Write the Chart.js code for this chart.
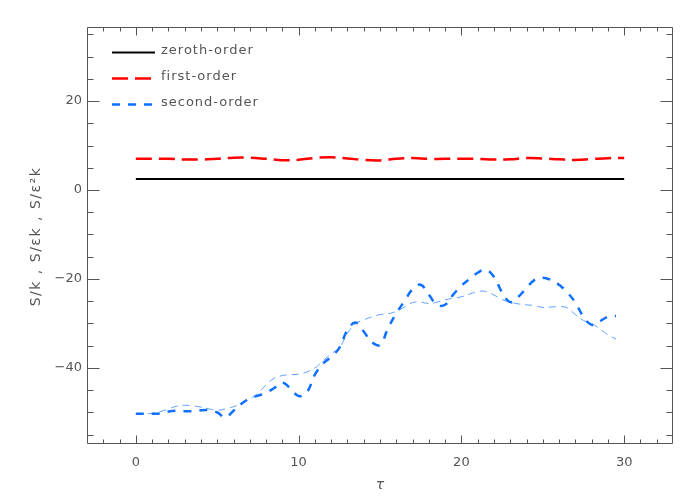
<!DOCTYPE html>
<html lang="en">
<head>
<meta charset="UTF-8">
<title>Entropy expansion orders</title>
<style>
    html, body { margin: 0; padding: 0; background: #fff; }
</style>
</head>
<body>
<canvas id="myChart" width="700" height="500"></canvas>
<script src="https://cdn.jsdelivr.net/npm/chart.js"></script>
<script>
    // Data
    const tauZeroth = [0, 30];
    const zeroth = [2.47, 2.47];

    const tauFirst = [0, 1, 2, 3, 4, 5, 6, 7, 8, 9, 10, 11, 12, 13, 14, 15, 16, 17, 18, 19, 20,
        21, 22, 23, 24, 25, 26, 27, 28, 29, 30];
    const first = [7.0, 7.0, 7.0, 6.85, 6.85, 7.0, 7.25, 7.25, 7.0, 6.7, 6.8, 7.2, 7.35, 7.1, 6.75, 6.65,
        7.0, 7.2, 7.0, 7.0, 7.0, 7.0, 6.85, 6.9, 7.2, 7.1, 6.9, 6.75, 6.95, 7.15, 7.2];

    const tauSecond = [0, 0.5, 1, 1.5, 2, 2.5, 3, 3.5, 4, 4.5, 5, 5.5, 6, 6.5, 7, 7.5, 8, 8.5, 9, 9.5,
        10, 10.5, 11, 11.5, 12, 12.5, 13, 13.5, 14, 14.5, 15, 15.5, 16, 16.5, 17, 17.5, 18, 18.5, 19, 19.5,
        20, 20.5, 21, 21.5, 22, 22.5, 23, 23.5, 24, 24.5, 25, 25.5, 26, 26.5, 27, 27.5, 28, 28.5, 29, 29.5];
    const second = [-50.3, -50.3, -50.3, -50.2, -49.8, -49.6, -49.7, -49.7, -49.5, -49.5,
        -50.0, -51.1, -49.6, -48.0, -46.8, -46.2, -45.6, -44.5, -43.3, -44.6,
        -46.3, -45.5, -41.5, -39.0, -37.5, -35.5, -31.5, -29.8, -31.8, -34.2,
        -34.8, -31.0, -27.7, -25.0, -22.3, -21.3, -23.5, -25.8, -25.8, -23.5,
        -21.5, -20.0, -18.6, -17.9, -19.5, -23.0, -25.2, -24.0, -22.0, -20.2,
        -19.7, -20.2, -21.3, -23.0, -25.3, -28.5, -30.3, -29.5, -28.5, -28.3];
    // thinner, smoother second-order curve (not in the legend)
    const secondSmooth = [-50.3, -50.3, -50.2, -49.8, -49.2, -48.6, -48.4, -48.5, -48.8, -49.2,
        -49.5, -49.2, -48.7, -48.0, -47.0, -45.7, -43.8, -42.3, -41.7, -41.5,
        -41.4, -40.9, -40.0, -38.4, -36.8, -35.5, -32.2, -30.0, -29.2, -28.5,
        -28.0, -27.8, -27.3, -26.3, -25.3, -25.2, -25.5, -25.2, -24.7, -24.3,
        -24.0, -23.4, -22.8, -22.8, -23.6, -24.6, -25.2, -25.6, -25.8, -26.0,
        -26.4, -26.3, -26.2, -26.5, -28.0, -29.3, -30.0, -31.2, -32.5, -33.5];

    const xMajor = [0, 10, 20, 30];
    const yMajor = [-40, -20, 0, 20];
    const yTitle = 'S/k , S/\u03b5k , S/\u03b5\u00b2k';

    function pts(xs, ys) {
        return xs.map((x, i) => ({x: x, y: ys[i]}));
    }
    function minus(v) {
        return String(v).replace('-', '\u2212');
    }

    const labelFont = {family: 'DejaVu Sans', size: 13};
    const grey = '#555';

    // inward ticks on all four sides, frame, legend and y title
    const framePlugin = {
        id: 'frame',
        afterDraw(chart) {
            const {ctx, chartArea: a, scales: {x, y}} = chart;
            const L = Math.round(a.left) + 0.5, R = Math.round(a.right) - 0.5;
            const T = Math.round(a.top) + 0.5, B = Math.round(a.bottom) - 0.5;
            ctx.save();
            ctx.strokeStyle = grey;
            ctx.lineWidth = 1;
            ctx.beginPath();
            ctx.rect(L, T, R - L, B - T);
            for (let v = -2; v <= 32; v++) {
                const len = xMajor.includes(v) ? 8 : 4;
                const px = Math.round(x.getPixelForValue(v)) + 0.5;
                ctx.moveTo(px, B); ctx.lineTo(px, B - len);
                ctx.moveTo(px, T); ctx.lineTo(px, T + len);
            }
            for (let v = -55; v <= 35; v += 5) {
                const len = yMajor.includes(v) ? 12 : 6;
                const py = Math.round(y.getPixelForValue(v)) + 0.5;
                ctx.moveTo(L, py); ctx.lineTo(L + len, py);
                ctx.moveTo(R, py); ctx.lineTo(R - len, py);
            }
            ctx.stroke();

            // legend
            const items = chart.data.datasets.filter(d => d.label);
            ctx.font = '13px "DejaVu Sans"';
            ctx.letterSpacing = '1px';
            ctx.textBaseline = 'middle';
            items.forEach((d, i) => {
                const yy = a.top + 25.5 + i * 26;
                ctx.strokeStyle = d.borderColor;
                ctx.lineWidth = d.borderWidth;
                ctx.setLineDash(d.borderDash || []);
                ctx.beginPath();
                ctx.moveTo(a.left + 25, yy);
                ctx.lineTo(a.left + 68, yy);
                ctx.stroke();
                ctx.fillStyle = grey;
                ctx.fillText(d.label, a.left + 74, yy - 2);
            });

            // y axis title
            ctx.font = '14px "DejaVu Sans"';
            ctx.letterSpacing = '1.5px';
            ctx.textAlign = 'center';
            ctx.fillStyle = grey;
            ctx.translate(36, (a.top + a.bottom) / 2 + 1);
            ctx.rotate(-Math.PI / 2);
            ctx.fillText(yTitle, 0, 0);
            ctx.restore();
        }
    };

    const data = {
        datasets: [
            {
                label: 'zeroth-order',
                data: pts(tauZeroth, zeroth),
                borderColor: '#000000',
                borderWidth: 2,
                pointRadius: 0
            },
            {
                label: 'first-order',
                data: pts(tauFirst, first),
                borderColor: '#ff0000',
                borderWidth: 2.5,
                borderDash: [16, 7],
                tension: 0.4,
                pointRadius: 0
            },
            {
                label: 'second-order',
                data: pts(tauSecond, second),
                borderColor: '#1070ff',
                borderWidth: 2.5,
                borderDash: [8, 8],
                tension: 0.4,
                pointRadius: 0
            },
            {
                label: '',
                data: pts(tauSecond, secondSmooth),
                borderColor: 'rgba(40,130,255,0.75)',
                borderWidth: 1,
                borderDash: [7, 5],
                tension: 0.4,
                pointRadius: 0
            }
        ]
    };

    const config = {
        type: 'line',
        data: data,
        options: {
            responsive: false,
            animation: false,
            layout: {padding: {left: 0, top: 27, right: 27, bottom: 0}},
            plugins: {legend: {display: false}, tooltip: {enabled: false}},
            scales: {
                x: {
                    type: 'linear',
                    min: -3,
                    max: 33,
                    afterBuildTicks: s => { s.ticks = xMajor.map(v => ({value: v})); },
                    afterFit: s => { s.height = 56; },
                    grid: {display: false, drawTicks: false},
                    border: {display: false},
                    ticks: {font: labelFont, color: grey, padding: 11, maxRotation: 0,
                        callback: v => minus(v)},
                    title: {display: true, text: '\u03c4', font: {family: 'DejaVu Sans', size: 14, style: 'italic'},
                        color: grey, padding: {top: 0, bottom: 6}}
                },
                y: {
                    min: -57.08,
                    max: 36.63,
                    afterBuildTicks: s => { s.ticks = yMajor.map(v => ({value: v})); },
                    afterFit: s => { s.width = 87; },
                    grid: {display: false, drawTicks: false},
                    border: {display: false},
                    ticks: {font: labelFont, color: grey, padding: 5,
                        callback: v => minus(v)}
                }
            }
        },
        plugins: [framePlugin]
    };

    const myChart = new Chart(document.getElementById('myChart'), config);
</script>
</body>
</html>
